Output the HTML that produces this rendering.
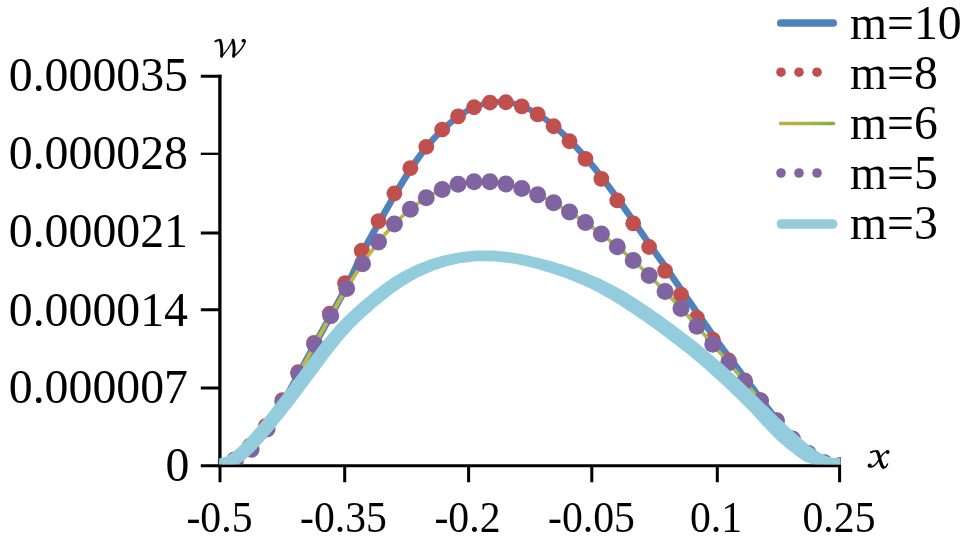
<!DOCTYPE html>
<html><head><meta charset="utf-8">
<style>
html,body{margin:0;padding:0;background:#fff;}
body{width:968px;height:540px;overflow:hidden;}
svg{display:block;will-change:transform;opacity:0.999;}
text{font-family:"Liberation Serif",serif;fill:#000;}
</style></head>
<body>
<svg width="968" height="540" viewBox="0 0 968 540">
<defs>
<linearGradient id="gg" gradientUnits="userSpaceOnUse" x1="172" y1="0" x2="656" y2="0">
<stop offset="0" stop-color="#c8b63e"/><stop offset="0.5" stop-color="#b6b846"/><stop offset="1" stop-color="#9dba50"/>
</linearGradient>
<linearGradient id="gl" gradientUnits="userSpaceOnUse" x1="779" y1="0" x2="835" y2="0">
<stop offset="0" stop-color="#c0ac40"/><stop offset="0.5" stop-color="#aab440"/><stop offset="1" stop-color="#7daf46"/>
</linearGradient>
<clipPath id="cp"><rect x="219" y="0" width="622" height="464.3"/></clipPath>
</defs>
<rect width="968" height="540" fill="#fff"/>
<!-- axes -->
<g stroke="#000" stroke-width="3" fill="none">
<path d="M219.9 74.8V467.2" stroke-width="3.3"/>
<path d="M200.8 465.7H841"/>
<path d="M200.8 76.3H221.5M200.8 233H220M200.8 309.7H220M200.8 388.1H220" stroke-width="3"/><path d="M200.8 153.8H220" stroke-width="2.3"/>
<path d="M220 465V482.3M344.7 465V482.3M468.6 465V482.3M591.8 465V482.3M717.3 465V482.3M839.6 465V482.3"/>
</g>
<!-- series -->
<g clip-path="url(#cp)">
<g transform="scale(1.28 1)"><path d="M171.33 465.50 C173.40 464.79 179.62 463.97 183.77 461.25 C187.91 458.53 192.06 454.56 196.20 449.17 C200.35 443.77 204.49 436.66 208.64 428.89 C212.79 421.13 216.93 411.77 221.08 402.58 C225.22 393.39 229.37 383.45 233.52 373.76 C237.66 364.06 241.81 354.11 245.95 344.42 C250.10 334.74 254.24 325.28 258.39 315.64 C262.54 306.00 266.45 297.66 270.83 286.59 C275.21 275.53 280.34 260.17 284.67 249.25 C289.00 238.32 292.72 230.35 296.80 221.04 C300.88 211.72 305.06 202.17 309.16 193.36 C313.25 184.54 317.32 175.92 321.36 168.16 C325.40 160.39 329.33 153.22 333.41 146.78 C337.49 140.35 341.70 134.61 345.84 129.53 C349.99 124.46 354.14 120.03 358.28 116.31 C362.43 112.59 366.57 109.54 370.72 107.24 C374.86 104.94 379.01 103.36 383.16 102.53 C387.30 101.70 391.45 101.62 395.59 102.25 C399.74 102.88 403.89 104.27 408.03 106.30 C412.18 108.33 416.28 111.11 420.47 114.43 C424.65 117.75 428.93 121.77 433.14 126.23 C437.35 130.70 441.52 135.78 445.73 141.23 C449.95 146.68 454.18 152.66 458.41 158.92 C462.63 165.19 466.89 171.91 471.08 178.83 C475.26 185.76 479.34 193.05 483.52 200.47 C487.69 207.90 491.89 215.61 496.11 223.36 C500.33 231.12 504.52 239.09 508.86 247.02 C513.20 254.95 517.80 263.01 522.16 270.96 C526.51 278.91 530.77 286.91 534.98 294.71 C539.20 302.52 543.33 310.29 547.42 317.80 C551.52 325.31 555.53 332.65 559.55 339.77 C563.56 346.88 567.55 353.71 571.52 360.47 C575.48 367.23 579.39 373.69 583.33 380.32 C587.27 386.95 591.19 393.57 595.14 400.23 C599.09 406.89 602.98 413.88 607.03 420.28 C611.09 426.68 615.32 433.16 619.47 438.62 C623.61 444.08 627.76 449.06 631.91 453.05 C636.05 457.04 640.20 460.48 644.34 462.57 C648.49 464.66 654.71 465.09 656.78 465.60" fill="none" stroke="#4f81bd" stroke-width="5.6" stroke-linecap="round" stroke-linejoin="round"/></g>
<g fill="#c0504d"><circle cx="219.30" cy="467.50" r="7.9"/><circle cx="234.32" cy="459.42" r="7.9"/><circle cx="250.04" cy="445.60" r="7.9"/><circle cx="265.96" cy="425.84" r="7.9"/><circle cx="282.38" cy="400.19" r="7.9"/><circle cx="298.10" cy="372.25" r="7.9"/><circle cx="314.02" cy="342.93" r="7.9"/><circle cx="329.84" cy="313.54" r="7.9"/><circle cx="345.06" cy="283.14" r="7.9"/><circle cx="361.78" cy="250.69" r="7.9"/><circle cx="378.50" cy="221.04" r="7.9"/><circle cx="394.42" cy="193.36" r="7.9"/><circle cx="410.34" cy="168.16" r="7.9"/><circle cx="426.26" cy="146.78" r="7.9"/><circle cx="442.18" cy="129.53" r="7.9"/><circle cx="458.10" cy="116.31" r="7.9"/><circle cx="474.02" cy="107.24" r="7.9"/><circle cx="489.94" cy="102.53" r="7.9"/><circle cx="505.86" cy="102.25" r="7.9"/><circle cx="521.78" cy="106.30" r="7.9"/><circle cx="537.70" cy="114.43" r="7.9"/><circle cx="553.62" cy="126.23" r="7.9"/><circle cx="569.54" cy="141.23" r="7.9"/><circle cx="585.46" cy="158.92" r="7.9"/><circle cx="601.38" cy="178.83" r="7.9"/><circle cx="617.30" cy="200.47" r="7.9"/><circle cx="633.22" cy="223.36" r="7.9"/><circle cx="649.14" cy="247.02" r="7.9"/><circle cx="665.06" cy="270.96" r="7.9"/><circle cx="680.98" cy="294.71" r="7.9"/><circle cx="696.90" cy="317.80" r="7.9"/><circle cx="712.82" cy="339.77" r="7.9"/><circle cx="728.74" cy="360.47" r="7.9"/><circle cx="744.66" cy="380.32" r="7.9"/><circle cx="760.58" cy="400.23" r="7.9"/><circle cx="776.50" cy="420.28" r="7.9"/><circle cx="792.42" cy="438.62" r="7.9"/><circle cx="808.34" cy="453.05" r="7.9"/><circle cx="824.26" cy="462.57" r="7.9"/><circle cx="840.18" cy="465.60" r="7.9"/></g>
<g transform="scale(1.28 1)"><path d="M171.33 467.50 C173.40 466.46 179.62 464.31 183.77 461.25 C187.91 458.20 192.06 454.56 196.20 449.17 C200.35 443.77 204.49 436.66 208.64 428.89 C212.79 421.13 216.93 411.77 221.08 402.58 C225.22 393.39 229.37 383.45 233.52 373.76 C237.66 364.06 241.81 354.11 245.95 344.42 C250.10 334.74 254.24 324.98 258.39 315.64 C262.54 306.30 266.68 297.06 270.83 288.39 C274.97 279.73 279.12 271.36 283.27 263.64 C287.41 255.93 291.56 248.70 295.70 242.09 C299.85 235.48 303.99 229.45 308.14 223.98 C312.29 218.50 316.43 213.61 320.58 209.25 C324.72 204.88 328.87 201.09 333.02 197.80 C337.16 194.51 341.31 191.78 345.45 189.51 C349.60 187.25 353.74 185.51 357.89 184.21 C362.04 182.90 366.18 182.10 370.33 181.69 C374.47 181.28 378.62 181.33 382.77 181.73 C386.91 182.13 391.06 182.96 395.20 184.10 C399.35 185.24 403.49 186.77 407.64 188.56 C411.79 190.36 415.93 192.50 420.08 194.87 C424.22 197.23 428.37 199.90 432.52 202.76 C436.66 205.61 440.81 208.72 444.95 212.01 C449.10 215.29 453.24 218.79 457.39 222.46 C461.54 226.13 465.68 229.99 469.83 234.03 C473.97 238.07 478.12 242.28 482.27 246.68 C486.41 251.09 490.56 255.67 494.70 260.46 C498.85 265.24 502.99 270.23 507.14 275.39 C511.29 280.55 515.43 285.92 519.58 291.42 C523.72 296.93 527.87 302.63 532.02 308.42 C536.16 314.21 540.31 320.18 544.45 326.17 C548.60 332.16 552.74 338.26 556.89 344.36 C561.04 350.47 565.18 356.61 569.33 362.82 C573.47 369.03 577.62 375.24 581.77 381.61 C585.91 387.98 590.06 394.51 594.20 401.03 C598.35 407.55 602.49 414.41 606.64 420.73 C610.79 427.05 614.93 433.49 619.08 438.96 C623.22 444.42 627.37 449.55 631.52 453.52 C635.66 457.48 639.81 460.73 643.95 462.74 C648.10 464.76 654.32 465.12 656.39 465.60" fill="none" stroke="url(#gg)" stroke-width="3.2" stroke-linecap="round" stroke-linejoin="round"/></g>
<g fill="#8064a2"><circle cx="219.30" cy="467.50" r="8.5"/><circle cx="235.22" cy="461.25" r="8.5"/><circle cx="251.14" cy="449.17" r="8.5"/><circle cx="267.06" cy="428.89" r="8.5"/><circle cx="282.98" cy="402.58" r="8.5"/><circle cx="298.90" cy="373.76" r="8.5"/><circle cx="314.82" cy="344.42" r="8.5"/><circle cx="330.74" cy="315.64" r="8.5"/><circle cx="346.66" cy="288.39" r="8.5"/><circle cx="362.58" cy="263.64" r="8.5"/><circle cx="378.50" cy="242.09" r="8.5"/><circle cx="394.42" cy="223.98" r="8.5"/><circle cx="410.34" cy="209.25" r="8.5"/><circle cx="426.26" cy="197.80" r="8.5"/><circle cx="442.18" cy="189.51" r="8.5"/><circle cx="458.10" cy="184.21" r="8.5"/><circle cx="474.02" cy="181.69" r="8.5"/><circle cx="489.94" cy="181.73" r="8.5"/><circle cx="505.86" cy="184.10" r="8.5"/><circle cx="521.78" cy="188.56" r="8.5"/><circle cx="537.70" cy="194.87" r="8.5"/><circle cx="553.62" cy="202.76" r="8.5"/><circle cx="569.54" cy="212.01" r="8.5"/><circle cx="585.46" cy="222.46" r="8.5"/><circle cx="601.38" cy="234.03" r="8.5"/><circle cx="617.30" cy="246.68" r="8.5"/><circle cx="633.22" cy="260.46" r="8.5"/><circle cx="649.14" cy="275.39" r="8.5"/><circle cx="665.06" cy="291.42" r="8.5"/><circle cx="680.98" cy="308.42" r="8.5"/><circle cx="696.90" cy="326.17" r="8.5"/><circle cx="712.82" cy="344.36" r="8.5"/><circle cx="728.74" cy="362.82" r="8.5"/><circle cx="744.66" cy="381.61" r="8.5"/><circle cx="760.58" cy="401.03" r="8.5"/><circle cx="776.50" cy="420.73" r="8.5"/><circle cx="792.42" cy="438.96" r="8.5"/><circle cx="808.34" cy="453.52" r="8.5"/><circle cx="824.26" cy="462.74" r="8.5"/><circle cx="840.18" cy="465.60" r="8.5"/></g>
<g transform="scale(1.28 1)"><path d="M171.44 458.06 C171.73 458.03 172.53 458.06 173.19 457.89 C173.84 457.72 174.57 457.47 175.38 457.06 C176.18 456.64 177.09 456.09 178.02 455.41 C178.95 454.72 179.95 453.88 180.97 452.93 C181.99 451.98 183.05 450.89 184.12 449.72 C185.19 448.55 186.29 447.26 187.39 445.90 C188.49 444.55 189.62 443.10 190.74 441.60 C191.86 440.10 193.00 438.53 194.13 436.92 C195.27 435.32 196.41 433.65 197.56 431.96 C198.70 430.27 199.85 428.54 201.00 426.79 C202.15 425.04 203.31 423.25 204.46 421.45 C205.61 419.65 206.77 417.82 207.92 415.98 C209.08 414.14 210.24 412.28 211.39 410.41 C212.55 408.54 213.71 406.65 214.87 404.75 C216.03 402.85 217.19 400.94 218.35 399.02 C219.51 397.10 220.67 395.16 221.83 393.23 C222.99 391.29 224.15 389.34 225.31 387.38 C226.47 385.42 227.63 383.46 228.79 381.48 C229.95 379.51 231.11 377.53 232.27 375.54 C233.43 373.55 234.59 371.55 235.75 369.54 C236.92 367.54 238.08 365.52 239.24 363.51 C240.41 361.50 241.58 359.48 242.74 357.48 C243.91 355.47 245.08 353.46 246.26 351.48 C247.43 349.49 248.60 347.51 249.78 345.57 C250.96 343.62 252.14 341.70 253.32 339.81 C254.51 337.93 255.69 336.07 256.88 334.26 C258.07 332.44 259.26 330.67 260.45 328.94 C261.64 327.21 262.84 325.52 264.03 323.87 C265.22 322.23 266.42 320.62 267.62 319.06 C268.81 317.50 270.01 315.98 271.20 314.50 C272.40 313.02 273.59 311.58 274.79 310.17 C275.98 308.77 277.17 307.40 278.35 306.05 C279.54 304.70 280.72 303.38 281.90 302.08 C283.08 300.77 284.26 299.49 285.44 298.21 C286.62 296.94 287.80 295.67 288.99 294.43 C290.17 293.18 291.36 291.95 292.55 290.74 C293.74 289.53 294.93 288.34 296.13 287.17 C297.33 286.00 298.52 284.86 299.73 283.74 C300.93 282.63 302.13 281.53 303.34 280.47 C304.55 279.41 305.75 278.37 306.97 277.37 C308.18 276.37 309.40 275.40 310.63 274.47 C311.85 273.53 313.08 272.64 314.31 271.77 C315.54 270.90 316.77 270.07 318.00 269.26 C319.24 268.45 320.47 267.68 321.70 266.94 C322.93 266.19 324.16 265.48 325.39 264.79 C326.62 264.10 327.85 263.44 329.09 262.81 C330.32 262.18 331.55 261.58 332.78 261.00 C334.01 260.42 335.24 259.87 336.47 259.35 C337.71 258.82 338.94 258.32 340.17 257.85 C341.40 257.38 342.63 256.93 343.86 256.50 C345.09 256.08 346.33 255.68 347.56 255.30 C348.79 254.92 350.02 254.57 351.25 254.23 C352.48 253.89 353.70 253.56 354.93 253.27 C356.16 252.97 357.39 252.70 358.62 252.45 C359.85 252.20 361.08 251.97 362.31 251.77 C363.54 251.57 364.77 251.39 366.00 251.23 C367.23 251.08 368.46 250.95 369.69 250.84 C370.92 250.73 372.15 250.64 373.38 250.58 C374.61 250.51 375.84 250.47 377.07 250.45 C378.30 250.43 379.53 250.44 380.75 250.46 C381.98 250.48 383.21 250.53 384.43 250.59 C385.66 250.66 386.88 250.75 388.10 250.85 C389.32 250.96 390.55 251.09 391.77 251.23 C392.99 251.38 394.21 251.54 395.42 251.73 C396.64 251.91 397.86 252.11 399.07 252.33 C400.29 252.55 401.50 252.79 402.71 253.04 C403.92 253.29 405.13 253.56 406.34 253.85 C407.55 254.13 408.75 254.44 409.96 254.75 C411.16 255.07 412.37 255.40 413.57 255.74 C414.77 256.09 415.97 256.45 417.17 256.82 C418.37 257.19 419.56 257.57 420.76 257.97 C421.96 258.36 423.15 258.77 424.35 259.17 C425.55 259.57 426.76 259.95 427.96 260.36 C429.17 260.77 430.37 261.19 431.57 261.62 C432.78 262.05 433.98 262.49 435.19 262.94 C436.39 263.39 437.59 263.85 438.80 264.33 C440.00 264.80 441.21 265.28 442.42 265.78 C443.62 266.28 444.83 266.78 446.04 267.31 C447.25 267.83 448.45 268.36 449.67 268.90 C450.88 269.45 452.09 270.01 453.30 270.58 C454.51 271.16 455.73 271.75 456.95 272.35 C458.16 272.95 459.38 273.57 460.60 274.21 C461.82 274.85 463.04 275.51 464.26 276.18 C465.49 276.85 466.71 277.55 467.93 278.26 C469.16 278.97 470.38 279.70 471.60 280.44 C472.83 281.19 474.05 281.96 475.27 282.74 C476.50 283.52 477.72 284.33 478.94 285.15 C480.16 285.97 481.38 286.80 482.60 287.65 C483.82 288.51 485.04 289.37 486.25 290.26 C487.46 291.14 488.67 292.04 489.87 292.97 C491.07 293.89 492.26 294.85 493.44 295.80 C494.63 296.76 495.82 297.73 497.01 298.71 C498.19 299.69 499.38 300.68 500.56 301.68 C501.75 302.68 502.93 303.69 504.11 304.70 C505.30 305.72 506.48 306.75 507.66 307.78 C508.84 308.81 510.02 309.86 511.20 310.91 C512.38 311.96 513.56 313.02 514.73 314.08 C515.91 315.15 517.09 316.22 518.27 317.30 C519.45 318.38 520.62 319.47 521.80 320.56 C522.98 321.66 524.16 322.76 525.33 323.87 C526.51 324.98 527.69 326.10 528.86 327.22 C530.04 328.34 531.22 329.48 532.40 330.62 C533.57 331.76 534.75 332.91 535.93 334.06 C537.11 335.22 538.29 336.38 539.46 337.56 C540.64 338.74 541.82 339.92 543.00 341.11 C544.18 342.31 545.36 343.51 546.54 344.73 C547.72 345.94 548.90 347.17 550.08 348.41 C551.26 349.64 552.44 350.89 553.63 352.16 C554.81 353.42 555.99 354.70 557.17 355.98 C558.35 357.27 559.53 358.57 560.72 359.89 C561.90 361.20 563.08 362.53 564.26 363.87 C565.44 365.21 566.62 366.56 567.80 367.93 C568.98 369.29 570.16 370.67 571.34 372.06 C572.52 373.44 573.70 374.84 574.88 376.25 C576.05 377.66 577.23 379.09 578.41 380.52 C579.58 381.95 580.76 383.39 581.93 384.83 C583.11 386.28 584.28 387.73 585.46 389.19 C586.63 390.65 587.80 392.12 588.97 393.59 C590.14 395.06 591.31 396.53 592.48 398.00 C593.65 399.48 594.81 400.96 595.98 402.43 C597.15 403.90 598.31 405.38 599.47 406.84 C600.64 408.31 601.80 409.78 602.96 411.23 C604.12 412.69 605.28 414.14 606.43 415.57 C607.59 417.01 608.74 418.44 609.89 419.85 C611.05 421.26 612.20 422.65 613.34 424.03 C614.49 425.40 615.64 426.76 616.78 428.09 C617.92 429.42 619.07 430.73 620.19 432.02 C621.32 433.30 622.45 434.56 623.54 435.81 C624.63 437.06 625.67 438.31 626.74 439.51 C627.80 440.71 628.86 441.87 629.91 442.99 C630.96 444.11 632.01 445.19 633.05 446.21 C634.10 447.24 635.13 448.22 636.16 449.14 C637.19 450.07 638.21 450.94 639.22 451.75 C640.23 452.56 641.21 453.35 642.22 454.00 C643.22 454.65 644.26 455.18 645.24 455.67 C646.23 456.16 647.20 456.58 648.15 456.92 C649.09 457.27 650.01 457.54 650.90 457.74 C651.80 457.94 652.66 458.07 653.51 458.14 C654.37 458.20 655.60 458.12 656.02 458.12 L657.10 470.07 C656.36 470.08 654.10 470.20 652.63 470.11 C651.15 470.01 649.70 469.74 648.24 469.49 C646.79 469.23 645.33 468.95 643.89 468.55 C642.45 468.16 641.03 467.66 639.62 467.09 C638.20 466.53 636.81 465.88 635.42 465.17 C634.03 464.47 632.65 463.70 631.30 462.86 C629.94 462.02 628.58 461.14 627.28 460.15 C625.98 459.17 624.75 458.05 623.50 456.95 C622.25 455.84 621.02 454.68 619.79 453.50 C618.56 452.32 617.33 451.09 616.12 449.84 C614.90 448.59 613.69 447.31 612.49 446.01 C611.28 444.70 610.06 443.38 608.88 442.02 C607.71 440.65 606.56 439.23 605.42 437.80 C604.29 436.37 603.18 434.89 602.06 433.42 C600.94 431.94 599.83 430.45 598.72 428.96 C597.61 427.46 596.50 425.95 595.39 424.44 C594.28 422.93 593.18 421.41 592.08 419.88 C590.97 418.36 589.87 416.83 588.77 415.31 C587.67 413.78 586.60 412.22 585.47 410.72 C584.35 409.22 583.16 407.76 582.00 406.29 C580.85 404.82 579.68 403.35 578.52 401.90 C577.36 400.44 576.20 398.98 575.04 397.54 C573.89 396.09 572.73 394.66 571.57 393.23 C570.41 391.80 569.26 390.38 568.10 388.98 C566.95 387.57 565.79 386.17 564.64 384.79 C563.48 383.40 562.33 382.03 561.18 380.67 C560.03 379.31 558.87 377.96 557.72 376.63 C556.57 375.29 555.42 373.97 554.27 372.66 C553.11 371.35 551.96 370.06 550.81 368.78 C549.66 367.49 548.51 366.22 547.36 364.97 C546.21 363.71 545.06 362.47 543.91 361.23 C542.76 360.00 541.61 358.78 540.45 357.57 C539.30 356.36 538.15 355.16 537.00 353.97 C535.85 352.78 534.69 351.60 533.54 350.43 C532.39 349.26 531.24 348.10 530.08 346.95 C528.93 345.80 527.77 344.66 526.62 343.52 C525.47 342.38 524.31 341.26 523.16 340.14 C522.00 339.02 520.85 337.90 519.70 336.80 C518.54 335.69 517.39 334.59 516.23 333.50 C515.08 332.41 513.92 331.33 512.77 330.25 C511.61 329.18 510.46 328.11 509.31 327.05 C508.15 325.99 507.00 324.94 505.85 323.89 C504.69 322.85 503.54 321.81 502.39 320.78 C501.23 319.75 500.08 318.73 498.93 317.72 C497.78 316.71 496.63 315.71 495.48 314.72 C494.33 313.72 493.18 312.74 492.03 311.77 C490.88 310.80 489.73 309.84 488.59 308.89 C487.44 307.94 486.29 307.00 485.15 306.08 C484.01 305.16 482.86 304.25 481.72 303.35 C480.58 302.45 479.45 301.56 478.32 300.69 C477.18 299.82 476.05 298.96 474.93 298.11 C473.80 297.27 472.67 296.45 471.54 295.64 C470.42 294.83 469.29 294.04 468.17 293.27 C467.05 292.50 465.92 291.75 464.80 291.01 C463.68 290.28 462.56 289.56 461.44 288.86 C460.31 288.16 459.19 287.48 458.07 286.81 C456.95 286.14 455.83 285.49 454.70 284.85 C453.58 284.22 452.45 283.60 451.33 282.99 C450.20 282.38 449.07 281.79 447.95 281.21 C446.82 280.63 445.69 280.06 444.56 279.50 C443.43 278.95 442.30 278.40 441.17 277.87 C440.04 277.33 438.90 276.81 437.77 276.30 C436.64 275.78 435.50 275.28 434.37 274.79 C433.24 274.30 432.10 273.82 430.97 273.35 C429.84 272.87 428.70 272.41 427.57 271.96 C426.44 271.51 425.30 271.07 424.17 270.64 C423.04 270.21 421.91 269.79 420.77 269.38 C419.64 268.98 418.51 268.60 417.37 268.22 C416.24 267.84 415.11 267.48 413.98 267.13 C412.85 266.78 411.72 266.45 410.59 266.12 C409.47 265.80 408.34 265.49 407.22 265.20 C406.10 264.90 404.97 264.62 403.85 264.36 C402.73 264.09 401.62 263.84 400.50 263.61 C399.38 263.38 398.27 263.16 397.15 262.96 C396.04 262.76 394.93 262.57 393.82 262.40 C392.70 262.24 391.59 262.09 390.49 261.96 C389.38 261.82 388.27 261.71 387.17 261.61 C386.06 261.52 384.96 261.44 383.85 261.38 C382.75 261.32 381.65 261.28 380.54 261.26 C379.44 261.24 378.34 261.23 377.24 261.25 C376.14 261.27 375.04 261.31 373.94 261.36 C372.84 261.42 371.75 261.50 370.65 261.60 C369.55 261.69 368.45 261.81 367.35 261.95 C366.26 262.09 365.16 262.25 364.06 262.43 C362.96 262.61 361.86 262.81 360.77 263.03 C359.67 263.26 358.57 263.50 357.47 263.76 C356.37 264.03 355.27 264.31 354.17 264.63 C353.07 264.94 351.97 265.29 350.87 265.66 C349.78 266.02 348.68 266.42 347.58 266.83 C346.49 267.25 345.39 267.68 344.29 268.14 C343.20 268.60 342.10 269.08 341.00 269.59 C339.90 270.09 338.81 270.62 337.71 271.17 C336.61 271.72 335.52 272.30 334.42 272.90 C333.32 273.50 332.23 274.12 331.13 274.77 C330.03 275.43 328.93 276.10 327.84 276.81 C326.74 277.51 325.64 278.24 324.55 279.00 C323.45 279.76 322.35 280.54 321.25 281.36 C320.15 282.18 319.06 283.03 317.95 283.90 C316.85 284.78 315.74 285.68 314.63 286.61 C313.51 287.54 312.39 288.49 311.27 289.48 C310.15 290.46 309.02 291.48 307.90 292.53 C306.77 293.58 305.64 294.66 304.51 295.76 C303.38 296.86 302.24 298.00 301.10 299.15 C299.97 300.31 298.83 301.49 297.68 302.69 C296.54 303.90 295.39 305.12 294.25 306.36 C293.10 307.60 291.95 308.86 290.80 310.13 C289.65 311.40 288.50 312.68 287.36 313.98 C286.22 315.28 285.08 316.59 283.94 317.93 C282.80 319.28 281.67 320.64 280.54 322.04 C279.41 323.45 278.27 324.88 277.14 326.36 C276.01 327.84 274.88 329.36 273.74 330.92 C272.61 332.48 271.47 334.09 270.34 335.74 C269.20 337.39 268.06 339.09 266.92 340.83 C265.78 342.57 264.64 344.36 263.49 346.18 C262.35 348.01 261.20 349.88 260.05 351.78 C258.90 353.68 257.75 355.62 256.59 357.57 C255.44 359.53 254.28 361.52 253.12 363.51 C251.96 365.50 250.79 367.52 249.63 369.52 C248.47 371.53 247.30 373.55 246.14 375.56 C244.97 377.57 243.80 379.58 242.64 381.58 C241.47 383.58 240.30 385.58 239.13 387.57 C237.96 389.55 236.80 391.53 235.63 393.50 C234.46 395.47 233.29 397.43 232.12 399.38 C230.96 401.34 229.79 403.28 228.62 405.22 C227.45 407.15 226.28 409.08 225.11 411.00 C223.94 412.92 222.77 414.82 221.60 416.72 C220.43 418.61 219.26 420.50 218.09 422.36 C216.91 424.23 215.74 426.08 214.57 427.92 C213.39 429.75 212.22 431.57 211.04 433.37 C209.86 435.16 208.68 436.94 207.50 438.69 C206.31 440.43 205.13 442.16 203.94 443.84 C202.74 445.53 201.55 447.19 200.34 448.79 C199.14 450.40 197.93 451.97 196.71 453.47 C195.48 454.97 194.25 456.43 192.99 457.80 C191.73 459.18 190.47 460.49 189.16 461.71 C187.85 462.92 186.52 464.06 185.12 465.08 C183.73 466.09 182.30 467.02 180.78 467.77 C179.26 468.52 177.66 469.18 175.99 469.56 C174.32 469.94 171.62 469.96 170.75 470.04 Z" fill="#93cddd" stroke="none"/></g>
</g>
<!-- y labels -->
<g font-size="47.8" text-anchor="end">
<text x="188" y="90.6">0.000035</text>
<text x="188" y="169.2">0.000028</text>
<text x="188" y="247">0.000021</text>
<text x="188" y="325.5">0.000014</text>
<text x="188" y="402.6">0.000007</text>
<text x="189.5" y="481.3">0</text>
</g>
<g font-size="44.4" text-anchor="middle">
<text transform="translate(219.5 531.6) scale(0.94 1)">-0.5</text>
<text transform="translate(343.5 531.6) scale(0.94 1)">-0.35</text>
<text transform="translate(467.5 531.6) scale(0.94 1)">-0.2</text>
<text transform="translate(591.5 531.6) scale(0.94 1)">-0.05</text>
<text transform="translate(716 531.6) scale(0.94 1)">0.1</text>
<text transform="translate(839 531.6) scale(0.94 1)">0.25</text>
</g>
<g id="gw" stroke="#000" fill="none" stroke-linecap="round" stroke-linejoin="round">
<path d="M215.3 41.3C216.8 40.5 218.5 40 220 40" stroke-width="1.9"/>
<path d="M220.2 40.4C221.7 44 222.2 52 221.5 56.2" stroke-width="2.9"/>
<path d="M221.8 56.8C226 52 230.5 45 233.3 39.8" stroke-width="1.3"/>
<path d="M232.9 40.2C234 44 234.2 52 233.5 56.2" stroke-width="2.9"/>
<path d="M233.8 56.8C238.5 52.5 243.5 46.5 245.1 42C245.5 40.6 244.8 39.6 243.6 39.8" stroke-width="1.4"/>
<circle cx="243.3" cy="40.7" r="1.8" fill="#000" stroke="none"/>
</g>
<g id="gx" stroke="#000" fill="none" stroke-linecap="round" stroke-linejoin="round">
<path d="M870.8 452.4C872.6 451.4 875 450.9 877 451.2" stroke-width="1.8"/>
<path d="M877.4 451.8C878.8 453.5 879.3 457 880.2 460.5C881 463.5 881.8 466 883.2 467.2" stroke-width="3.2"/>
<path d="M883.3 467.6C885 468.3 886.8 465.8 887.6 464" stroke-width="1.4"/>
<path d="M886.8 451.4C884 452.2 881.5 455.5 879.6 458.8C877.5 462.5 874.5 466.3 871.2 467" stroke-width="1.4"/>
<circle cx="887.7" cy="452" r="1.9" fill="#000" stroke="none"/><circle cx="869.7" cy="465.7" r="2.1" fill="#000" stroke="none"/>
</g>
<!-- legend -->
<path d="M780.8 23H833.2" stroke="#4f81bd" stroke-width="7.7" stroke-linecap="round"/>
<g fill="#c0504d"><circle cx="781" cy="72.2" r="4.8"/><circle cx="799" cy="72.2" r="4.8"/><circle cx="817" cy="72.2" r="4.8"/></g>
<path d="M780.5 123.5H833.5" stroke="url(#gl)" stroke-width="3.5" stroke-linecap="round"/>
<g fill="#8064a2"><circle cx="781" cy="173" r="4.8"/><circle cx="799" cy="173" r="4.8"/><circle cx="817" cy="173" r="4.8"/></g>
<path d="M781.5 224H832.7" stroke="#93cddd" stroke-width="9.6" stroke-linecap="round"/>
<g font-size="47.7">
<text x="850" y="38.8">m=10</text>
<text x="850" y="88.6">m=8</text>
<text x="850" y="138.8">m=6</text>
<text x="850" y="188.8">m=5</text>
<text x="850" y="239.2">m=3</text>
</g>
</svg>
</body></html>
